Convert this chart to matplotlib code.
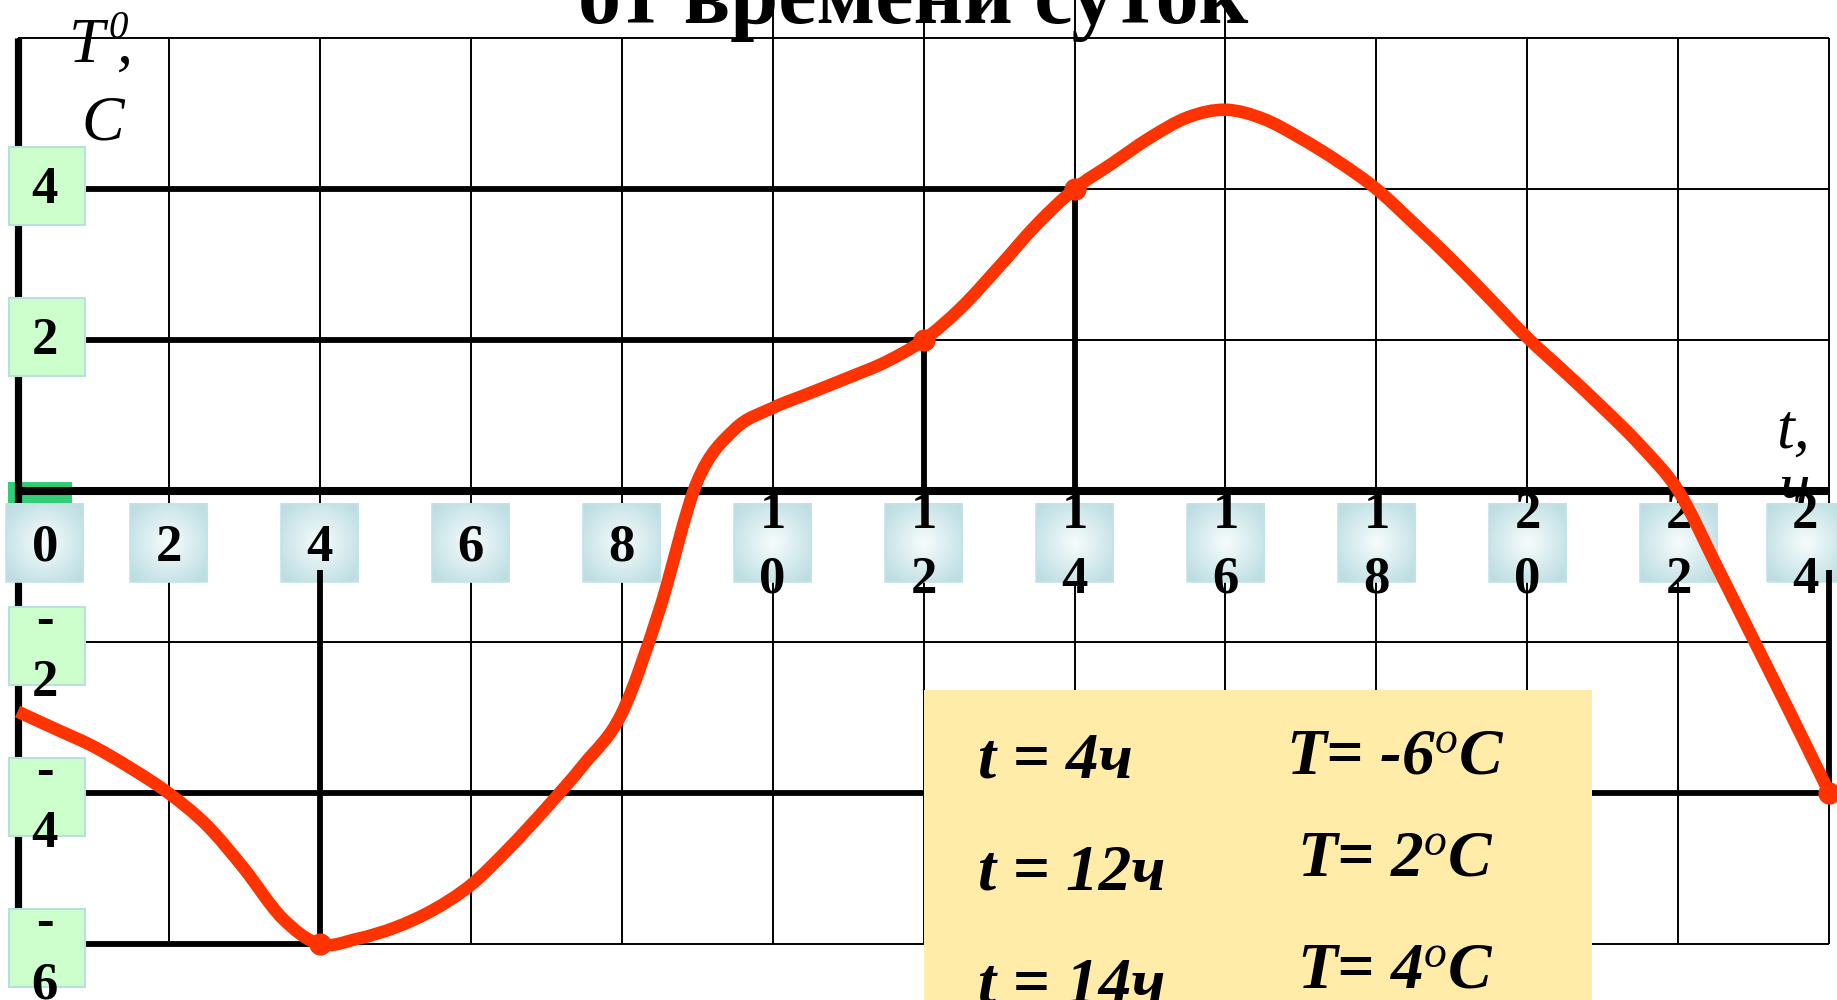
import numpy as np
import matplotlib
matplotlib.use("Agg")
import matplotlib.pyplot as plt
from matplotlib.patches import Rectangle, PathPatch
from matplotlib.path import Path

plt.rcParams['mathtext.fontset'] = 'custom'
plt.rcParams['mathtext.it'] = 'Liberation Serif:italic'
plt.rcParams['mathtext.rm'] = 'Liberation Serif'

# ---- data -------------------------------------------------------------
hours = [0, 0.5, 1, 1.5, 2, 2.5, 3, 3.5, 4, 4.5, 5, 5.5, 6, 6.5, 7, 7.5,
         8, 8.5, 9, 9.5, 10, 10.5, 11, 11.5, 12, 12.5, 13, 13.5, 14, 14.5,
         15, 15.5, 16, 16.5, 17, 17.5, 18, 18.5, 19, 19.5, 20, 20.5, 21,
         21.5, 22, 22.5, 23, 23.5, 24]
temps = [-2.92, -3.15, -3.38, -3.67, -4.0, -4.42, -5.0, -5.65, -6.0, -5.93,
         -5.78, -5.55, -5.22, -4.74, -4.2, -3.62, -2.95, -1.58, 0.12, 0.82,
         1.1, 1.3, 1.5, 1.71, 2.0, 2.43, 2.97, 3.53, 4.0, 4.34, 4.68, 4.95,
         5.05, 4.93, 4.67, 4.36, 4.0, 3.54, 3.06, 2.55, 2.03, 1.57, 1.1,
         0.6, 0.0, -0.98, -1.98, -2.98, -4.0]

marked_t = [4, 12, 14, 24]
marked_T = [-6, 2, 4, -4]

x_ticks = [0, 2, 4, 6, 8, 10, 12, 14, 16, 18, 20, 22, 24]
y_ticks = [4, 2, -2, -4, -6]

title_text = "от времени суток"

# ---- figure -----------------------------------------------------------
fig = plt.figure(figsize=(18.37, 10), dpi=100)
ax = fig.add_axes([0, 0, 1, 1])
ax.set_xlim(-0.233, 24.1)
ax.set_ylim(-6.74, 6.503)
ax.axis('off')

SERIF = 'Liberation Serif'
RED = '#ff3300'

# thin grid
for x in range(0, 25, 2):
    top = 6.503 if 10 <= x <= 16 else 6
    ax.plot([x, x], [-6, top], color='black', lw=1.4, zorder=1,
            solid_capstyle='butt')
for y in range(-6, 7, 2):
    ax.plot([0, 24], [y, y], color='black', lw=1.4, zorder=1,
            solid_capstyle='butt')

# hidden green tab at the origin
ax.add_patch(Rectangle((-0.13, -0.9), 0.85, 1.02, facecolor='#33cc77',
                       edgecolor='none', zorder=1.5))

# axes
ax.plot([0, 0], [-6.3, 6.0], color='black', lw=5.2, zorder=2,
        solid_capstyle='butt')
ax.plot([0, 24], [0, 0], color='black', lw=5.8, zorder=2,
        solid_capstyle='butt')

# axis captions
ax.text(0.68, 5.68, "T", fontsize=46, family=SERIF, style='italic',
        ha='left', va='baseline', zorder=3)
ax.text(1.2, 6.0, "0", fontsize=28, family=SERIF, style='italic',
        ha='left', va='baseline', zorder=3)
ax.text(1.32, 5.68, ",", fontsize=46, family=SERIF, style='italic',
        ha='left', va='baseline', zorder=3)
ax.text(0.85, 4.65, "C", fontsize=46, family=SERIF, style='italic',
        ha='left', va='baseline', zorder=3)
ax.text(23.3, 0.58, "t,", fontsize=46, family=SERIF, style='italic',
        ha='left', va='baseline', zorder=3)
ax.text(23.33, -0.2, "ч", fontsize=46, family=SERIF, style='italic',
        ha='left', va='baseline', zorder=1.6)

# x tick label tiles with a soft radial shading
uu, vv = np.meshgrid(np.linspace(-1, 1, 60), np.linspace(-1, 1, 60))
rr = np.clip(np.sqrt(uu ** 2 + vv ** 2) / 1.25, 0, 1)[..., None]
c_in = np.array([0.97, 0.99, 0.99])
c_out = np.array([0.74, 0.87, 0.89])
shade = c_in * (1 - rr) + c_out * rr

x_shift = {0: 0.36, 24: -0.32}
DIG = 0.23      # half digit height in data units
for xv in x_ticks:
    cx = xv + x_shift.get(xv, 0.0)
    cy = -0.69
    x0, x1 = cx - 0.51, cx + 0.51
    y0, y1 = cy - 0.52, cy + 0.52
    ax.imshow(shade, extent=[x0, x1, y0, y1], zorder=3, aspect='auto',
              interpolation='bilinear')
    ax.add_patch(Rectangle((x0, y0), x1 - x0, y1 - y0, facecolor='none',
                           edgecolor='#c3e3e6', lw=1.2, zorder=3.1))
    chars = list(str(xv))
    n = len(chars)
    for k, ch in enumerate(chars):
        yc = cy + (n - 1) / 2 * 0.85 - k * 0.85
        ax.text(cx, yc - DIG, ch, fontsize=38, family=SERIF,
                weight='bold', ha='center', va='baseline', zorder=3.5)

# y tick label tiles
for yv in y_ticks:
    cy = yv + (0.04 if yv > 0 else -0.05)
    x0, x1 = -0.12, 0.89
    ax.add_patch(Rectangle((x0, cy - 0.515), x1 - x0, 1.03,
                           facecolor='#ccffcc', edgecolor='#b8e0e0',
                           lw=1.5, zorder=3))
    xc = 0.36
    if yv > 0:
        ax.text(xc, cy - DIG, str(yv), fontsize=38, family=SERIF,
                weight='bold', ha='center', va='baseline', zorder=3.5)
    else:
        ax.text(xc, cy + 0.33 - 0.17, "-", fontsize=38, family=SERIF,
                weight='bold', ha='center', va='baseline', zorder=3.5)
        ax.text(xc, cy - 0.44 - DIG, str(abs(yv)), fontsize=38,
                family=SERIF, weight='bold', ha='center', va='baseline',
                zorder=3.5)

# guides from marked points to the axes
for t, T in zip(marked_t, marked_T):
    ax.plot([0.89, t], [T, T], color='black', lw=4.2, zorder=2.5,
            solid_capstyle='butt')
    y_end = 0 if T > 0 else -1.05
    ax.plot([t, t], [y_end, T], color='black', lw=4.2, zorder=4,
            solid_capstyle='butt')

# answer panel
ax.add_patch(Rectangle((12.0, -7.0), 8.86, 4.36, facecolor='#ffeca8',
                       edgecolor='none', zorder=3))
left_base = [-3.79, -5.28, -6.77, -8.26]
right_base = [-3.74, -5.09, -6.57, -8.05]
for t, T, yl, yr in zip(marked_t, marked_T, left_base, right_base):
    ax.text(12.72, yl, f"t = {t}ч", fontsize=47, family=SERIF,
            weight='bold', style='italic', ha='left', va='baseline',
            zorder=3.5)
    ax.text(18.25, yr, f"T= {T}$^{{o}}$C", fontsize=47, family=SERIF,
            weight='bold', style='italic', ha='center', va='baseline',
            zorder=3.5)

# temperature curve (Catmull-Rom through the read values)
pts = np.column_stack([hours, temps])
verts = [pts[0]]
codes = [Path.MOVETO]
for i in range(len(pts) - 1):
    p0 = pts[i - 1] if i > 0 else pts[i]
    p1 = pts[i]
    p2 = pts[i + 1]
    p3 = pts[i + 2] if i + 2 < len(pts) else pts[i + 1]
    verts += [p1 + (p2 - p0) / 6, p2 - (p3 - p1) / 6, p2]
    codes += [Path.CURVE4] * 3
ax.add_patch(PathPatch(Path(verts, codes), facecolor='none', edgecolor=RED,
                       lw=9, capstyle='butt', joinstyle='round', zorder=5))
ax.plot(marked_t, marked_T, 'o', color=RED, markersize=16, zorder=6,
        markeredgewidth=0)

# title (upper line lies outside the frame)
ax.text(11.86, 6.2, title_text, fontsize=62, family=SERIF, weight='bold',
        ha='center', va='baseline', zorder=7)

fig.savefig("out.png", dpi=100)
